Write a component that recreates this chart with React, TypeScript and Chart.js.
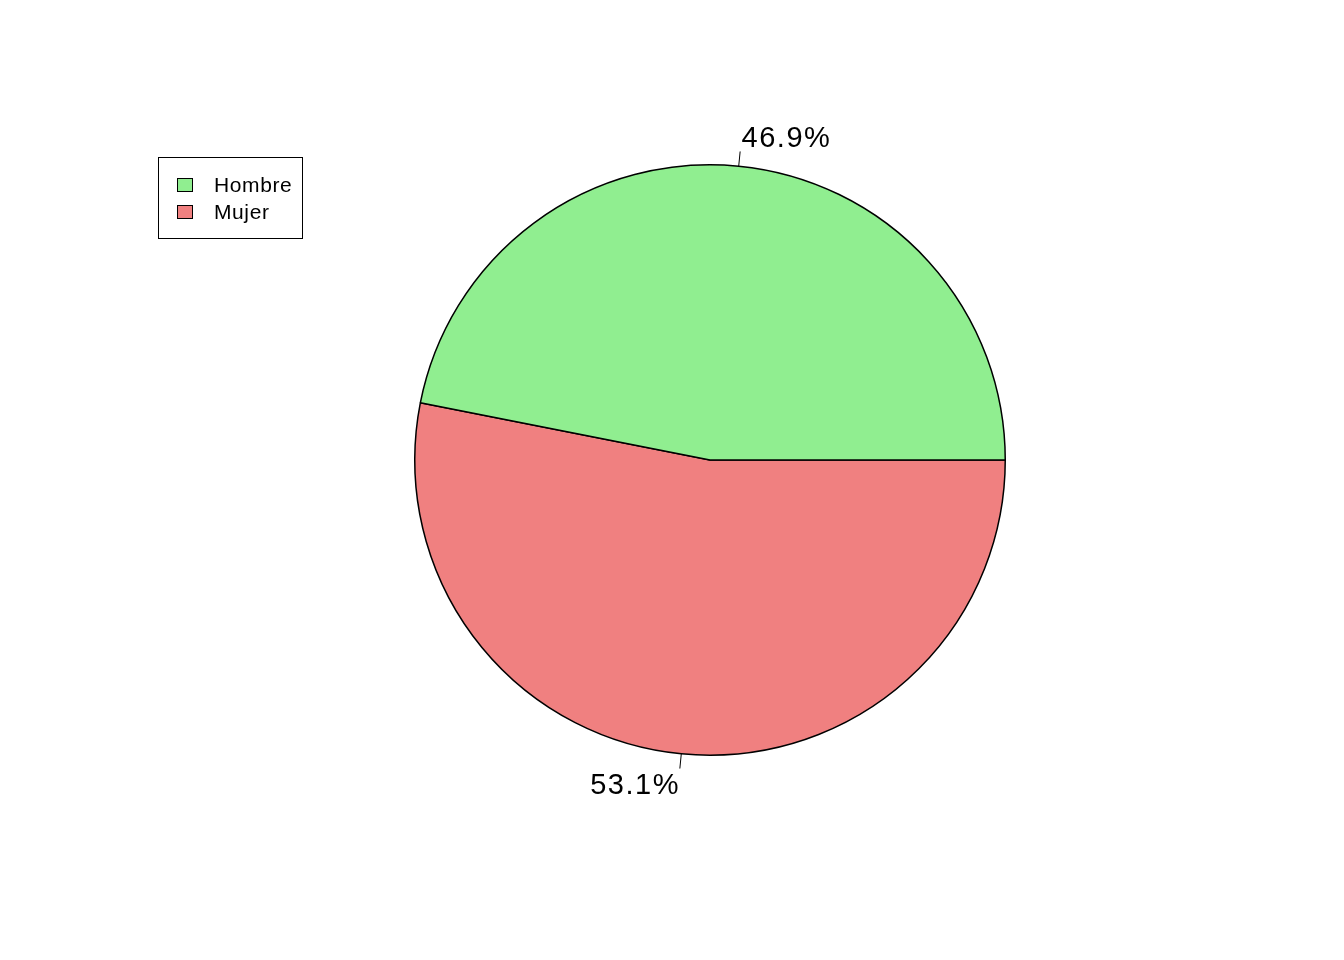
import React, { useEffect, useRef } from "react";
import { Chart, registerables } from "chart.js";

Chart.register(...registerables);

const categories = ["Hombre", "Mujer"];
const percentages = [46.9, 53.1];
const colors = ["#90EE90", "#F08080"];
const labelTexts = ["46.9%", "53.1%"];

// Chart.js draws clockwise; R draws counter-clockwise from 3 o'clock.
// So draw reversed order starting at 3 o'clock.
const drawOrder = [1, 0];

const overlayPlugin = {
  id: "rOverlay",
  afterDatasetsDraw(chart: any) {
    const ctx = chart.ctx;
    const meta = chart.getDatasetMeta(0);
    ctx.save();
    meta.data.forEach((arc: any, i: number) => {
      const orig = drawOrder[i];
      const mid = (arc.startAngle + arc.endAngle) / 2;
      const r = arc.outerRadius;
      const cx = arc.x;
      const cy = arc.y;
      const c = Math.cos(mid);
      const s = Math.sin(mid);
      ctx.strokeStyle = "#000";
      ctx.lineWidth = 1;
      ctx.beginPath();
      ctx.moveTo(cx + r * c, cy + r * s);
      ctx.lineTo(cx + r * 1.05 * c, cy + r * 1.05 * s);
      ctx.stroke();
      ctx.fillStyle = "#000";
      ctx.font = "29px 'Liberation Sans', Arial, sans-serif";
      (ctx as any).letterSpacing = "1.5px";
      ctx.textBaseline = "middle";
      ctx.textAlign = c > 0 ? "left" : "right";
      ctx.fillText(labelTexts[orig], cx + r * 1.1 * c + (c > 0 ? 0 : 1.5), cy + r * 1.1 * s + 2.5);
    });

    // Legend box
    (ctx as any).letterSpacing = "0.6px";
    const bx = 158, by = 157, bw = 144, bh = 81;
    ctx.fillStyle = "#fff";
    ctx.fillRect(bx, by, bw, bh);
    ctx.strokeStyle = "#000";
    ctx.lineWidth = 1;
    ctx.strokeRect(bx + 0.5, by + 0.5, bw, bh);
    ctx.font = "21px 'Liberation Sans', Arial, sans-serif";
    ctx.textAlign = "left";
    ctx.textBaseline = "middle";
    categories.forEach((name, k) => {
      const yc = 185 + k * 27;
      ctx.fillStyle = colors[k];
      ctx.fillRect(177.5, yc - 6.5, 15, 13);
      ctx.strokeStyle = "#000";
      ctx.strokeRect(177.5, yc - 6.5, 15, 13);
      ctx.fillStyle = "#000";
      ctx.fillText(name, 214, yc + 1.5);
    });
    ctx.restore();
  },
};

export default function App() {
  const ref = useRef<HTMLCanvasElement | null>(null);
  useEffect(() => {
    document.body.style.margin = "0";
    if (!ref.current) return;
    const chart = new Chart(ref.current, {
      type: "pie",
      data: {
        labels: drawOrder.map((i) => categories[i]),
        datasets: [
          {
            data: drawOrder.map((i) => percentages[i]),
            backgroundColor: drawOrder.map((i) => colors[i]),
            borderColor: "#000",
            borderWidth: 1.5,
            borderAlign: "center",
          },
        ],
      },
      options: {
        responsive: false,
        animation: false,
        rotation: 90,
        layout: { padding: { left: 414, right: 338, top: 164, bottom: 204 } },
        plugins: {
          legend: { display: false },
          tooltip: { enabled: false },
        },
      },
      plugins: [overlayPlugin],
    });
    return () => chart.destroy();
  }, []);
  return (
    <div style={{ width: 1344, height: 960, background: "#fff" }}>
      <canvas ref={ref} width={1344} height={960} style={{ display: "block" }} />
    </div>
  );
}
